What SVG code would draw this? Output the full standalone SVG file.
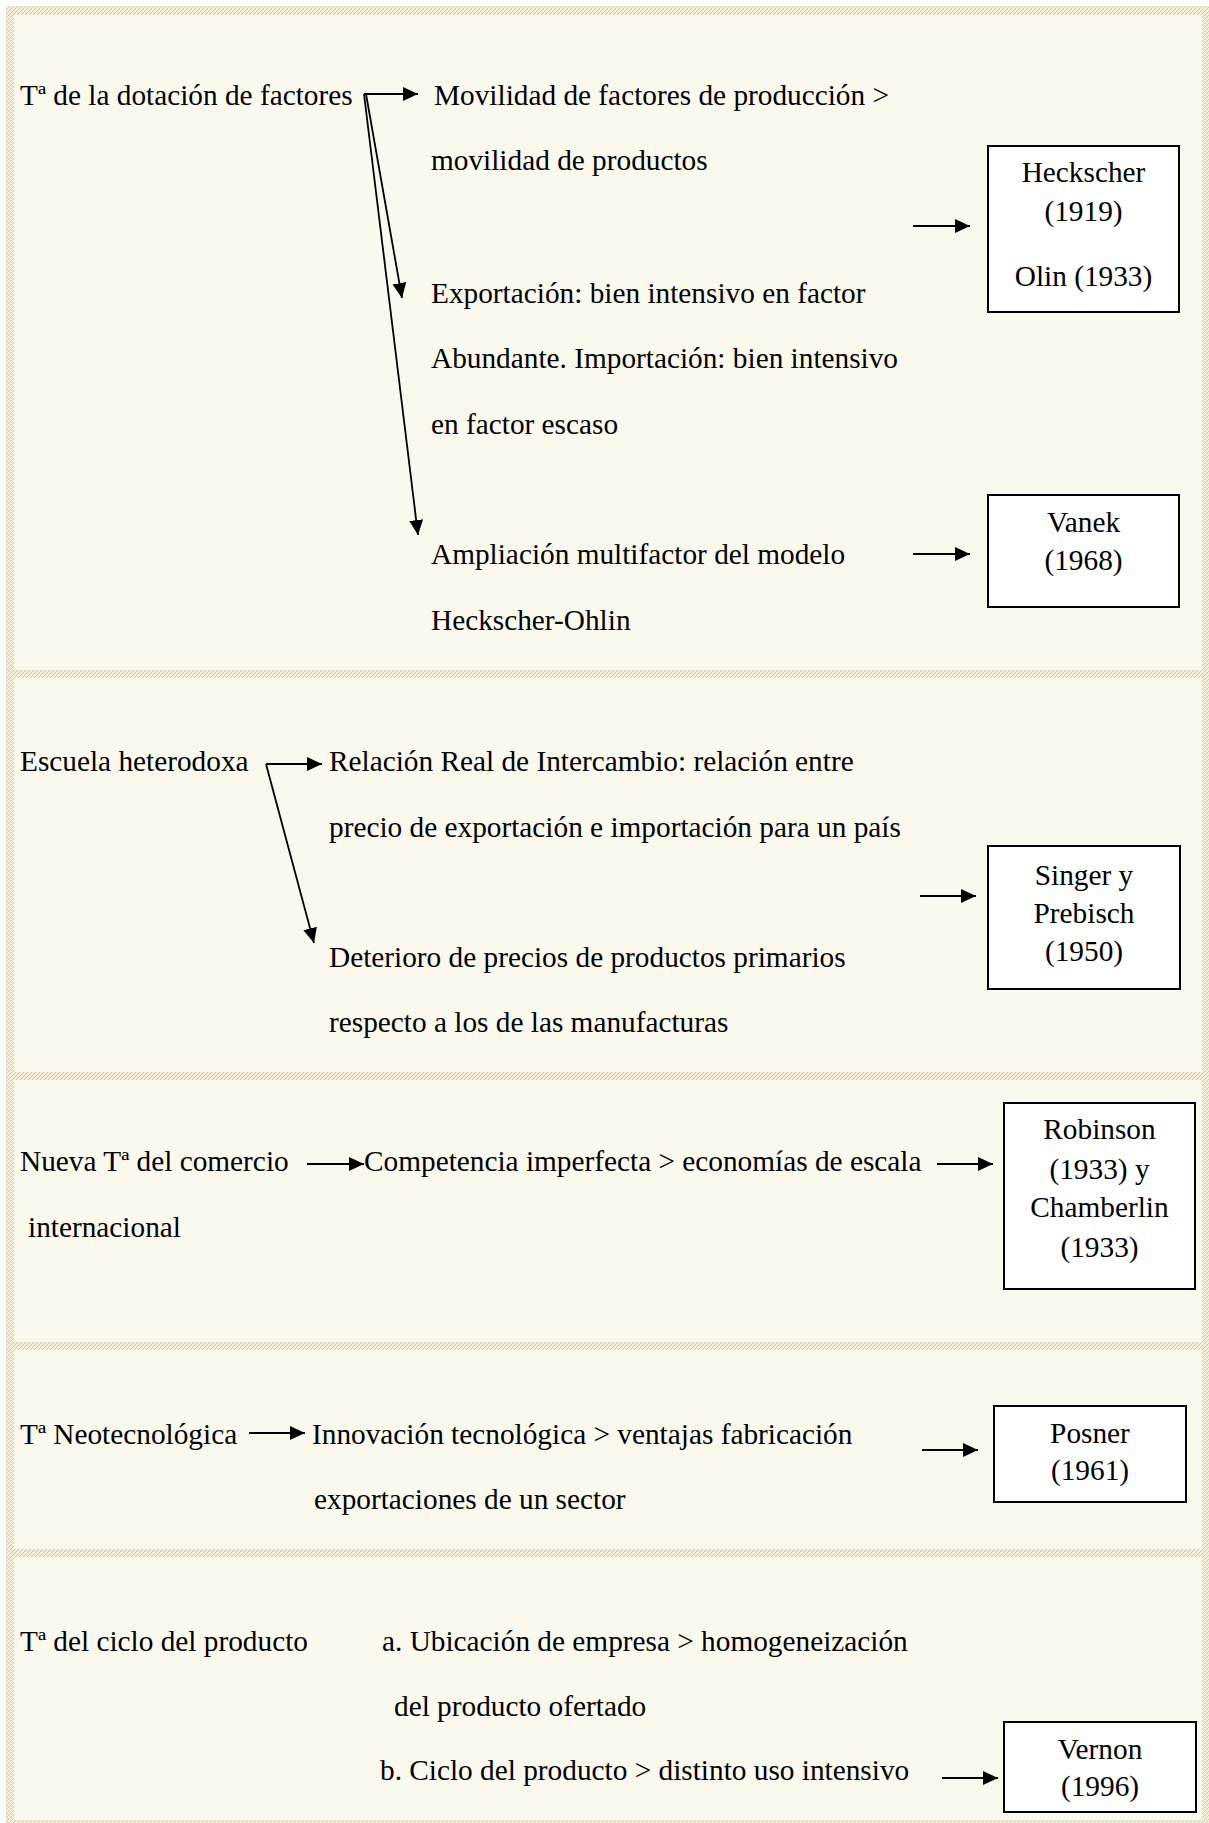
<svg xmlns="http://www.w3.org/2000/svg" width="1209" height="1823" viewBox="0 0 1209 1823">
  <defs>
    <!-- fine diagonal hatch used for the page frame and section dividers -->
    <pattern id="hatch" patternUnits="userSpaceOnUse" width="4" height="4">
      <rect width="4" height="4" fill="#F3EDD8"/>
      <path d="M-1,1 L1,-1 M0,4 L4,0 M3,5 L5,3" stroke="#D5C99F" stroke-width="1"/>
    </pattern>
    <marker id="ah" markerUnits="userSpaceOnUse" markerWidth="16" markerHeight="14" refX="15" refY="7" orient="auto">
      <path d="M0,0 L15,7 L0,14 z" fill="#000"/>
    </marker>
    <style>
      text { font-family: "Liberation Serif", "Times New Roman", serif; font-size: 29.3px; fill: #000; }
      .c { text-anchor: middle; }
      .box { fill: #fff; stroke: #000; stroke-width: 2; }
      .conn path { fill: none; stroke: #000; stroke-width: 1.8; marker-end: url(#ah); }
    </style>
  </defs>

  <!-- page: white margin, hatched frame, cream panel -->
  <rect x="0" y="0" width="1209" height="1823" fill="#fff"/>
  <rect x="6" y="6" width="1203" height="1817" fill="url(#hatch)"/>
  <rect x="14" y="15" width="1188" height="1805" fill="#FBF9EE"/>

  <!-- section dividers -->
  <g id="dividers" fill="url(#hatch)">
    <rect x="14" y="670" width="1188" height="8"/>
    <rect x="14" y="1072" width="1188" height="8"/>
    <rect x="14" y="1342" width="1188" height="8"/>
    <rect x="14" y="1549" width="1188" height="8"/>
  </g>

  <!-- section 1: factor endowment -->
  <g id="n-dotacion"><text x="20" y="105">Tª de la dotación de factores</text></g>
  <g id="n-movilidad">
    <text x="434" y="105">Movilidad de factores de producción &gt;</text>
    <text x="431" y="170">movilidad de productos</text>
  </g>
  <g id="n-exportacion">
    <text x="431" y="303">Exportación: bien intensivo en factor</text>
    <text x="431" y="368">Abundante. Importación: bien intensivo</text>
    <text x="431" y="434">en factor escaso</text>
  </g>
  <g id="n-ampliacion">
    <text x="431" y="564">Ampliación multifactor del modelo</text>
    <text x="431" y="630">Heckscher-Ohlin</text>
  </g>
  <g id="n-heckscher">
    <rect class="box" x="988" y="146" width="191" height="166"/>
    <text class="c" x="1083.5" y="182">Heckscher</text>
    <text class="c" x="1083.5" y="221">(1919)</text>
    <text class="c" x="1083.5" y="286">Olin (1933)</text>
  </g>
  <g id="n-vanek">
    <rect class="box" x="988" y="495" width="191" height="112"/>
    <text class="c" x="1083.5" y="532">Vanek</text>
    <text class="c" x="1083.5" y="570">(1968)</text>
  </g>

  <!-- section 2: heterodox school -->
  <g id="n-escuela"><text x="20" y="771">Escuela heterodoxa</text></g>
  <g id="n-relacion">
    <text x="329" y="771">Relación Real de Intercambio: relación entre</text>
    <text x="329" y="837">precio de exportación e importación para un país</text>
  </g>
  <g id="n-deterioro">
    <text x="329" y="967">Deterioro de precios de productos primarios</text>
    <text x="329" y="1032">respecto a los de las manufacturas</text>
  </g>
  <g id="n-singer">
    <rect class="box" x="988" y="846" width="192" height="143"/>
    <text class="c" x="1084" y="885">Singer y</text>
    <text class="c" x="1084" y="923">Prebisch</text>
    <text class="c" x="1084" y="961">(1950)</text>
  </g>

  <!-- section 3: new trade theory -->
  <g id="n-nueva">
    <text x="20" y="1171">Nueva Tª del comercio</text>
    <text x="28" y="1237">internacional</text>
  </g>
  <g id="n-competencia"><text x="364" y="1171">Competencia imperfecta &gt; economías de escala</text></g>
  <g id="n-robinson">
    <rect class="box" x="1004" y="1103" width="191" height="186"/>
    <text class="c" x="1099.5" y="1139">Robinson</text>
    <text class="c" x="1099.5" y="1179">(1933) y</text>
    <text class="c" x="1099.5" y="1217">Chamberlin</text>
    <text class="c" x="1099.5" y="1257">(1933)</text>
  </g>

  <!-- section 4: neotechnological theory -->
  <g id="n-neotec"><text x="20" y="1444">Tª Neotecnológica</text></g>
  <g id="n-innovacion">
    <text x="312" y="1444">Innovación tecnológica &gt; ventajas fabricación</text>
    <text x="314" y="1509">exportaciones de un sector</text>
  </g>
  <g id="n-posner">
    <rect class="box" x="994" y="1406" width="192" height="96"/>
    <text class="c" x="1090" y="1443">Posner</text>
    <text class="c" x="1090" y="1480">(1961)</text>
  </g>

  <!-- section 5: product life cycle -->
  <g id="n-ciclo"><text x="20" y="1651">Tª del ciclo del producto</text></g>
  <g id="n-ubicacion">
    <text x="382" y="1651">a. Ubicación de empresa &gt; homogeneización</text>
    <text x="394" y="1716">del producto ofertado</text>
  </g>
  <g id="n-ciclo-b"><text x="380" y="1780">b. Ciclo del producto &gt; distinto uso intensivo</text></g>
  <g id="n-vernon">
    <rect class="box" x="1004" y="1722" width="192" height="90"/>
    <text class="c" x="1100" y="1759">Vernon</text>
    <text class="c" x="1100" y="1796">(1996)</text>
  </g>

  <!-- connectors -->
  <g id="connectors" class="conn">
    <path d="M364,94 H418"/>
    <path d="M366,94 L402,298"/>
    <path d="M364,94 L418,535"/>
    <path d="M913,226 H970"/>
    <path d="M913,554 H970"/>
    <path d="M266,764 H322"/>
    <path d="M266,764 L314,943"/>
    <path d="M920,896 H976"/>
    <path d="M307,1164 H364"/>
    <path d="M937,1164 H993"/>
    <path d="M249,1433 H305"/>
    <path d="M922,1450 H978"/>
    <path d="M942,1778 H998"/>
  </g>
</svg>
